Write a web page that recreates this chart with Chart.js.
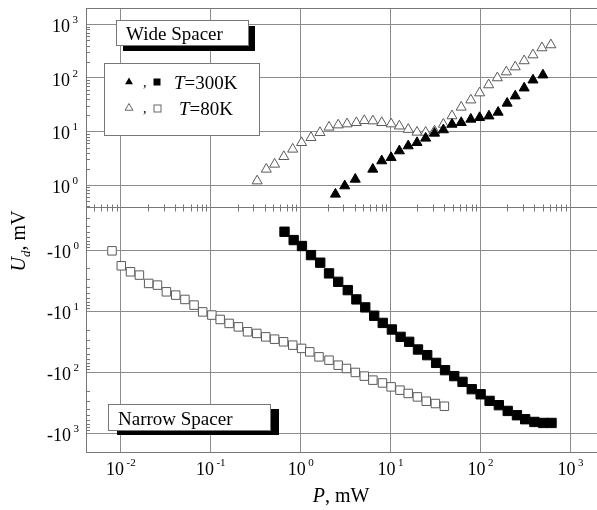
<!DOCTYPE html>
<html lang="en">
<head>
    <meta charset="UTF-8">
    <title>Ud vs P</title>
    <script src="https://cdn.jsdelivr.net/npm/chart.js"></script>
    <style>
        body { margin: 0; background: #fff; overflow: hidden; }
        #wrap { position: relative; width: 605px; height: 510px; }
    </style>
</head>
<body>
    <div id="wrap"><canvas id="udChart"></canvas></div>

    <script>
        // wide spacer, T=300K (filled triangles)
        const pWide300 = [2.45, 3.11, 4.07, 6.38, 8.02, 10.2, 12.6, 15.8, 19.8, 24.7, 31.0, 38.9, 48.5, 61.4, 78.5, 98.4, 125, 158, 199, 245, 308, 386, 498];
        const uWide300 = [0.673, 0.962, 1.28, 1.97, 2.82, 3.24, 4.33, 5.37, 6.18, 7.47, 9.25, 10.7, 13.6, 14.6, 16.9, 18.1, 19.4, 22.8, 33.6, 45.9, 64.6, 91, 113];
        // wide spacer, T=80K (open triangles)
        const pWide80 = [0.33, 0.417, 0.516, 0.653, 0.82, 1.03, 1.31, 1.65, 2.08, 2.63, 3.30, 4.19, 5.13, 6.39, 8.02, 10.2, 12.6, 15.8, 19.8, 24.7, 31.0, 38.9, 48.5, 61.4, 78.5, 98.4, 124, 155, 195, 245, 308, 386, 485, 610];
        const uWide80 = [1.19, 1.97, 2.44, 3.39, 4.66, 6.18, 7.66, 9.5, 12.0, 13.2, 13.8, 14.6, 15.9, 15.7, 14.6, 13.8, 12.6, 10.9, 9.66, 9.66, 10.2, 13.6, 19.5, 28.3, 38.6, 52.3, 74, 100, 129, 160, 208, 268, 363, 413];
        // narrow spacer, T=300K (filled squares)
        const pNarrow300 = [0.665, 0.841, 1.04, 1.31, 1.66, 2.08, 2.63, 3.36, 4.19, 5.26, 6.61, 8.23, 10.4, 13.0, 16.2, 20.3, 25.7, 32.3, 40.6, 51.4, 63.5, 80.4, 101, 127, 161, 202, 256, 316, 400, 502, 621];
        const uNarrow300 = [-0.501, -0.686, -0.859, -1.21, -1.61, -2.41, -3.31, -4.53, -6.43, -8.69, -11.9, -15.6, -20.0, -26.4, -31.8, -42.5, -52.6, -70.4, -92.7, -116, -144, -190, -230, -295, -347, -431, -507, -589, -653, -678, -678];
        // narrow spacer, T=80K (open squares)
        const pNarrow80 = [0.00802, 0.01017, 0.01288, 0.01618, 0.0205, 0.0257, 0.0323, 0.0410, 0.0519, 0.0656, 0.0818, 0.1035, 0.128, 0.161, 0.204, 0.258, 0.327, 0.411, 0.516, 0.649, 0.821, 1.03, 1.27, 1.61, 2.08, 2.63, 3.25, 4.08, 5.13, 6.39, 8.17, 10.2, 12.8, 15.8, 20.0, 25.1, 31.7, 39.9];
        const uNarrow80 = [-1.03, -1.81, -2.27, -2.57, -3.52, -3.75, -4.83, -5.47, -6.44, -7.97, -10.3, -11.6, -13.7, -15.9, -18.1, -21.8, -23.2, -26.4, -28.8, -31.8, -36.1, -40.8, -46.5, -56.1, -63.6, -76.8, -87, -101, -116, -135, -150, -174, -197, -223, -254, -299, -326, -361];

        const xTickExps = [-2, -1, 0, 1, 2, 3];
        const yTopExps = [0, 1, 2, 3];
        const yBotExps = [0, 1, 2, 3];
        const legendLabels = ['T=300K', 'T=80K'];
        const panelLabels = ['Wide Spacer', 'Narrow Spacer'];

        const SERIF = '"Liberation Serif", "DejaVu Serif", serif';
        const GRID = '#8c8c8c';

        const toPoints = (p, u) => p.map((x, i) => ({x: x, y: Math.abs(u[i])}));

        const decadeTicks = exps => scale => { scale.ticks = exps.map(e => ({value: Math.pow(10, e)})); };

        // draws "10" + superscript; anchor: 'right' => base text ends at x, 'center' => whole label centered at x
        const powLabel = (ctx, base, exp, x, y, anchor) => {
            ctx.font = '18px ' + SERIF;
            const wb = ctx.measureText(base).width;
            ctx.font = '11px ' + SERIF;
            const we = ctx.measureText(exp).width;
            let left = anchor === 'center' ? x - (wb + 2 + we) / 2 : x - wb;
            ctx.textAlign = 'left';
            ctx.textBaseline = 'alphabetic';
            ctx.font = '18px ' + SERIF;
            ctx.fillText(base, left, y);
            ctx.font = '11px ' + SERIF;
            ctx.fillText(exp, left + wb + 2.5, y - 9);
        };

        const spacerBox = (ctx, text, x, y, w, h, dx, dy) => {
            ctx.fillStyle = '#000';
            ctx.fillRect(x + dx, y + dy, w, h);
            ctx.fillStyle = '#fff';
            ctx.fillRect(x, y, w, h);
            ctx.strokeStyle = '#777';
            ctx.lineWidth = 1;
            ctx.strokeRect(x + 0.5, y + 0.5, w, h);
            ctx.fillStyle = '#000';
            ctx.font = '19px ' + SERIF;
            ctx.textAlign = 'left';
            ctx.fillText(text, x + 10, y + h - 5);
        };

        const tri = (ctx, x, y, r, filled) => {
            ctx.beginPath();
            ctx.moveTo(x, y - r);
            ctx.lineTo(x + r * 0.87, y + r * 0.5);
            ctx.lineTo(x - r * 0.87, y + r * 0.5);
            ctx.closePath();
            if (filled) { ctx.fillStyle = '#000'; ctx.fill(); }
            else { ctx.strokeStyle = '#666'; ctx.lineWidth = 1; ctx.stroke(); }
        };

        const sq = (ctx, x, y, s, filled) => {
            if (filled) { ctx.fillStyle = '#000'; ctx.fillRect(x - s / 2, y - s / 2, s, s); }
            else { ctx.strokeStyle = '#666'; ctx.lineWidth = 1; ctx.strokeRect(x - s / 2 + 0.5, y - s / 2 + 0.5, s, s); }
        };

        const tempLabel = (ctx, text, x, y) => {
            ctx.font = 'italic 19px ' + SERIF;
            ctx.fillStyle = '#000';
            ctx.fillText(text[0], x, y);
            const w = ctx.measureText(text[0]).width;
            ctx.font = '19px ' + SERIF;
            ctx.fillText(text.slice(1), x + w, y);
        };

        const decorations = {
            id: 'decorations',
            afterDraw(chart) {
                const ctx = chart.ctx;
                const a = chart.chartArea;
                const sx = chart.scales.x, st = chart.scales.yTop, sb = chart.scales.yBot;
                ctx.save();

                // frame and panel divider
                ctx.strokeStyle = '#777';
                ctx.lineWidth = 1;
                ctx.strokeRect(a.left + 0.5, a.top + 0.5, a.right - a.left, a.bottom - a.top);
                const div = Math.round(st.bottom) + 0.5;
                ctx.beginPath();
                ctx.moveTo(a.left, div);
                ctx.lineTo(a.right, div);
                ctx.stroke();

                // minor ticks
                ctx.beginPath();
                for (let e = -3; e <= 3; e++) {
                    for (let m = 2; m <= 9; m++) {
                        const v = m * Math.pow(10, e);
                        if (v > sx.min && v < sx.max) {
                            const px = Math.round(sx.getPixelForValue(v)) + 0.5;
                            ctx.moveTo(px, div - 3);
                            ctx.lineTo(px, div + 4);
                        }
                        [st, sb].forEach(s => {
                            if (v > s.min && v < s.max) {
                                const py = Math.round(s.getPixelForValue(v)) + 0.5;
                                ctx.moveTo(a.left, py);
                                ctx.lineTo(a.left + 4, py);
                            }
                        });
                    }
                }
                ctx.stroke();

                // tick labels
                ctx.fillStyle = '#000';
                yTopExps.forEach(e => powLabel(ctx, '10', String(e), 70, st.getPixelForValue(Math.pow(10, e)) + 8, 'right'));
                yBotExps.forEach(e => powLabel(ctx, '-10', String(e), 71, sb.getPixelForValue(Math.pow(10, e)) + 8, 'right'));
                xTickExps.forEach(e => powLabel(ctx, '10', String(e), sx.getPixelForValue(Math.pow(10, e)), a.bottom + 23, 'center'));

                // axis titles
                ctx.font = 'italic 20px ' + SERIF;
                const wP = ctx.measureText('P').width;
                ctx.font = '20px ' + SERIF;
                const wRest = ctx.measureText(', mW').width;
                let x0 = 341 - (wP + wRest) / 2;
                ctx.textAlign = 'left';
                ctx.font = 'italic 20px ' + SERIF;
                ctx.fillText('P', x0, 502);
                ctx.font = '20px ' + SERIF;
                ctx.fillText(', mW', x0 + wP, 502);

                ctx.save();
                ctx.translate(25, 241);
                ctx.rotate(-Math.PI / 2);
                ctx.font = 'italic 20px ' + SERIF;
                const wU = ctx.measureText('U').width;
                ctx.font = 'italic 13px ' + SERIF;
                const wd = ctx.measureText('d').width;
                ctx.font = '20px ' + SERIF;
                const wmv = ctx.measureText(', mV').width;
                let t0 = -(wU + wd + wmv) / 2;
                ctx.font = 'italic 20px ' + SERIF;
                ctx.fillText('U', t0, 0);
                ctx.font = 'italic 13px ' + SERIF;
                ctx.fillText('d', t0 + wU, 5);
                ctx.font = '20px ' + SERIF;
                ctx.fillText(', mV', t0 + wU + wd, 0);
                ctx.restore();

                // panel labels
                spacerBox(ctx, panelLabels[0], 116, 20, 132, 25, 7, 6);
                spacerBox(ctx, panelLabels[1], 108, 404, 162, 26, 9, 5);

                // legend
                ctx.fillStyle = '#fff';
                ctx.fillRect(104, 63, 155, 72);
                ctx.strokeStyle = '#777';
                ctx.strokeRect(104.5, 63.5, 155, 72);
                const rows = [82, 108];
                tri(ctx, 129, rows[0], 4.5, true);
                sq(ctx, 157, rows[0], 7, true);
                tri(ctx, 129, rows[1], 4.5, false);
                sq(ctx, 157, rows[1], 7, false);
                ctx.fillStyle = '#000';
                ctx.font = '14px ' + SERIF;
                ctx.fillText(',', 143, rows[0] + 5);
                ctx.fillText(',', 143, rows[1] + 5);
                tempLabel(ctx, legendLabels[0], 174, rows[0] + 7);
                tempLabel(ctx, legendLabels[1], 179, rows[1] + 7);

                ctx.restore();
            }
        };

        const filled = {backgroundColor: '#000', borderColor: '#000', borderWidth: 1};
        const open = {backgroundColor: '#fff', borderColor: '#5a5a5a', borderWidth: 1};

        new Chart(document.getElementById('udChart'), {
            type: 'scatter',
            data: {
                datasets: [
                    {label: 'Wide 300K', data: toPoints(pWide300, uWide300), yAxisID: 'yTop', pointStyle: 'triangle', pointRadius: 5.8, ...filled},
                    {label: 'Wide 80K', data: toPoints(pWide80, uWide80), yAxisID: 'yTop', pointStyle: 'triangle', pointRadius: 5.8, ...open},
                    {label: 'Narrow 300K', data: toPoints(pNarrow300, uNarrow300), yAxisID: 'yBot', pointStyle: 'rect', pointRadius: 6.6, ...filled},
                    {label: 'Narrow 80K', data: toPoints(pNarrow80, uNarrow80), yAxisID: 'yBot', pointStyle: 'rect', pointRadius: 6, ...open}
                ]
            },
            options: {
                responsive: true,
                maintainAspectRatio: false,
                animation: false,
                layout: {padding: {top: 8, right: 2, left: 0, bottom: 0}},
                plugins: {legend: {display: false}, tooltip: {enabled: false}},
                scales: {
                    x: {
                        type: 'logarithmic',
                        min: 0.00412, max: 2009,
                        afterBuildTicks: decadeTicks(xTickExps),
                        afterFit: s => { s.height = 58; },
                        ticks: {display: false},
                        grid: {color: GRID, drawTicks: false},
                        border: {color: '#777'}
                    },
                    // stacked left axes: the one listed last ends up on top
                    yBot: {
                        type: 'logarithmic',
                        position: 'left',
                        stack: 'ud',
                        stackWeight: 245.3,
                        reverse: true,
                        min: 0.195, max: 2028,
                        afterBuildTicks: decadeTicks(yBotExps),
                        afterFit: s => { s.width = 86; },
                        ticks: {display: false},
                        grid: {color: GRID, drawTicks: false},
                        border: {color: '#777'}
                    },
                    yTop: {
                        type: 'logarithmic',
                        position: 'left',
                        stack: 'ud',
                        stackWeight: 198.7,
                        min: 0.3936, max: 2014,
                        afterBuildTicks: decadeTicks(yTopExps),
                        afterFit: s => { s.width = 86; },
                        ticks: {display: false},
                        grid: {color: GRID, drawTicks: false},
                        border: {color: '#777'}
                    }
                }
            },
            plugins: [decorations]
        });
    </script>
</body>
</html>
